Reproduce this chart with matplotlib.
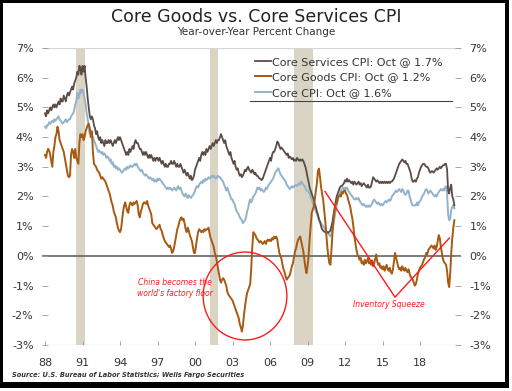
import numpy as np
import matplotlib
matplotlib.use("Agg")
import matplotlib.pyplot as plt
from matplotlib.patches import Ellipse, Rectangle
from matplotlib.lines import Line2D

# monthly year-over-year % change, Jan 1988 .. Oct 2020
core_services = [
    4.8, 4.7, 4.9, 4.8, 4.9, 5.0, 4.9, 5.0, 5.1, 5.0, 5.1, 5.0,          # 1988
    5.1, 5.2, 5.1, 5.3, 5.2, 5.2, 5.4, 5.3, 5.2, 5.4, 5.5, 5.4,          # 1989
    5.5, 5.6, 5.7, 5.6, 5.8, 5.9, 6.0, 6.2, 6.1, 6.4, 6.3, 6.1,          # 1990
    6.4, 6.2, 6.4, 6.0, 5.7, 5.3, 5.0, 4.7, 4.6, 4.7, 4.6, 4.4,          # 1991
    4.3, 4.1, 4.2, 4.0, 3.9, 4.0, 3.8, 3.9, 3.8, 3.7, 3.9, 3.8,          # 1992
    3.8, 3.9, 3.8, 3.9, 3.8, 3.7, 3.8, 3.9, 3.8, 3.9, 4.0, 3.9,          # 1993
    4.0, 3.9, 3.8, 3.7, 3.6, 3.5, 3.4, 3.5, 3.4, 3.6, 3.5, 3.6,          # 1994
    3.7, 3.6, 3.8, 3.9, 3.8, 3.8, 3.7, 3.6, 3.6, 3.5, 3.4, 3.5,          # 1995
    3.4, 3.5, 3.4, 3.3, 3.4, 3.3, 3.4, 3.3, 3.2, 3.3, 3.2, 3.3,          # 1996
    3.3, 3.2, 3.3, 3.2, 3.1, 3.2, 3.1, 3.0, 3.1, 3.0, 3.0, 3.1,          # 1997
    3.1, 3.2, 3.1, 3.1, 3.2, 3.1, 3.0, 3.1, 3.0, 3.0, 3.1, 3.0,          # 1998
    2.9, 2.8, 2.9, 2.8, 2.7, 2.8, 2.7, 2.6, 2.7, 2.55, 2.6, 2.7,         # 1999
    2.9, 3.0, 3.1, 3.2, 3.3, 3.2, 3.4, 3.5, 3.4, 3.5, 3.4, 3.6,          # 2000
    3.5, 3.6, 3.7, 3.6, 3.7, 3.8, 3.7, 3.8, 3.9, 3.8, 3.9, 3.9,          # 2001
    4.0, 4.1, 4.0, 3.9, 3.8, 3.9, 3.7, 3.6, 3.5, 3.4, 3.5, 3.3,          # 2002
    3.2, 3.1, 3.2, 3.0, 2.9, 2.95, 2.8, 2.7, 2.75, 2.65, 2.7, 2.8,       # 2003
    2.9, 2.85, 2.95, 3.0, 2.9, 2.85, 2.8, 2.9, 2.85, 2.75, 2.8, 2.7,     # 2004
    2.7, 2.65, 2.6, 2.6, 2.55, 2.6, 2.7, 2.8, 2.9, 3.0, 3.1, 3.2,        # 2005
    3.3, 3.2, 3.4, 3.5, 3.5, 3.6, 3.7, 3.85, 3.8, 3.7, 3.6, 3.65,       # 2006
    3.6, 3.55, 3.5, 3.45, 3.4, 3.45, 3.3, 3.35, 3.3, 3.25, 3.3, 3.2,    # 2007
    3.25, 3.2, 3.3, 3.25, 3.2, 3.25, 3.2, 3.25, 3.2, 3.1, 3.0, 2.85,    # 2008
    2.65, 2.5, 2.3, 2.2, 2.1, 2.0, 1.9, 1.75, 1.65, 1.5, 1.4, 1.25,     # 2009
    1.15, 1.0, 0.9, 0.85, 0.82, 0.8, 0.77, 0.8, 0.78, 0.82, 0.85, 1.0,  # 2010
    1.15, 1.4, 1.6, 1.8, 2.0, 2.1, 2.2, 2.3, 2.35, 2.35, 2.4, 2.45,     # 2011
    2.55, 2.5, 2.6, 2.5, 2.55, 2.5, 2.45, 2.5, 2.4, 2.5, 2.45, 2.4,     # 2012
    2.45, 2.5, 2.4, 2.45, 2.35, 2.4, 2.45, 2.4, 2.35, 2.3, 2.4, 2.3,    # 2013
    2.3, 2.35, 2.5, 2.65, 2.6, 2.55, 2.5, 2.55, 2.5, 2.45, 2.5, 2.45,   # 2014
    2.5, 2.45, 2.5, 2.45, 2.5, 2.45, 2.5, 2.45, 2.5, 2.5, 2.55, 2.6,    # 2015
    2.7, 2.8, 2.9, 3.0, 3.1, 3.15, 3.2, 3.25, 3.2, 3.15, 3.2, 3.1,      # 2016
    3.1, 3.0, 2.9, 2.8, 2.6, 2.5, 2.5, 2.55, 2.5, 2.6, 2.65, 2.8,       # 2017
    2.9, 3.0, 3.05, 3.1, 3.1, 3.05, 3.0, 3.0, 2.95, 2.85, 2.8, 2.85,    # 2018
    2.85, 2.8, 2.85, 2.9, 2.95, 2.9, 2.95, 3.0, 2.95, 3.0, 3.05, 3.05,  # 2019
    3.1, 3.1, 2.9, 2.2, 2.1, 2.3, 2.4, 2.0, 1.9, 1.7,                   # 2020
]

core_goods = [
    3.4, 3.3, 3.5, 3.6, 3.55, 3.4, 3.2, 3.0, 3.5, 3.7, 4.0, 4.1,
    4.35, 4.2, 3.9, 3.8, 3.7, 3.6, 3.5, 3.3, 3.1, 2.9, 2.7, 2.65,
    2.7, 3.4, 3.6, 3.5, 3.3, 3.6, 3.3, 3.2, 3.1, 3.8, 4.1, 4.0,
    4.1, 3.9, 4.0, 4.2, 4.3, 4.4, 4.45, 4.3, 4.0, 4.2, 3.5, 3.1,
    3.05, 3.0, 2.9, 2.85, 2.8, 2.7, 2.6, 2.65, 2.6, 2.55, 2.5, 2.4,
    2.3, 2.2, 2.1, 1.95, 1.8, 1.7, 1.5, 1.4, 1.3, 1.1, 0.95, 0.85,
    0.8, 0.9, 1.2, 1.5, 1.7, 1.8, 1.65, 1.5, 1.45, 1.7, 1.8, 1.75,
    1.7, 1.8, 1.75, 1.8, 1.85, 1.7, 1.4, 1.3, 1.5, 1.6, 1.75, 1.8,
    1.8, 1.75, 1.85, 1.7, 1.6, 1.5, 1.4, 1.1, 1.05, 1.0, 0.95, 0.9,
    0.95, 1.0, 1.05, 0.9, 0.85, 0.7, 0.6, 0.5, 0.45, 0.4, 0.35, 0.3,
    0.35, 0.25, 0.1, 0.15, 0.3, 0.5, 0.7, 0.9, 1.0, 1.15, 1.25, 1.3,
    1.2, 1.25, 1.1, 0.9, 0.8, 0.95, 0.85, 0.7, 0.6, 0.5, 0.3, 0.1,
    0.1, 0.35, 0.6, 0.8, 0.9, 0.85, 0.8, 0.85, 0.8, 0.9, 0.85, 0.9,
    0.9, 0.95, 0.75, 0.6, 0.5, 0.4, 0.3, 0.1, 0.0, -0.2, -0.4, -0.6,
    -0.8, -0.9, -0.8, -0.75, -0.8, -0.9, -1.0, -1.2, -1.3, -1.35, -1.4, -1.45,
    -1.5, -1.6, -1.7, -1.8, -1.9, -2.0, -2.1, -2.3, -2.4, -2.55, -2.35, -2.0,
    -1.7, -1.45, -1.25, -1.15, -1.05, -0.95, -0.4, 0.3, 0.8, 0.75, 0.7, 0.6,
    0.55, 0.5, 0.45, 0.5, 0.45, 0.4, 0.45, 0.5, 0.4, 0.5, 0.55, 0.5,
    0.55, 0.5, 0.6, 0.55, 0.65, 0.6, 0.65, 0.55, 0.3, 0.1, 0.0, -0.1,
    -0.3, -0.45, -0.55, -0.7, -0.8, -0.75, -0.7, -0.65, -0.5, -0.35, -0.25, -0.05,
    0.15, 0.25, 0.43, 0.54, 0.6, 0.65, 0.48, 0.31, 0.15, -0.13, -0.4, -0.58,
    -0.35, -0.02, 0.54, 1.0, 1.44, 1.55, 1.66, 1.9, 2.2, 2.44, 2.85, 2.94,
    2.66, 2.33, 2.1, 1.9, 1.55, 1.2, 0.77, 0.31, -0.02, -0.25, -0.3, 0.2,
    0.77, 1.2, 1.55, 1.72, 1.77, 1.94, 2.0, 2.05, 2.0, 2.15, 2.1, 2.2,
    2.2, 2.1, 2.05, 1.9, 1.77, 1.66, 1.44, 1.27, 1.0, 0.65, 0.43, 0.2,
    0.04, -0.02, -0.13, -0.07, -0.25, -0.19, -0.3, -0.13, -0.25, -0.19, -0.07, -0.25,
    -0.2, -0.3, -0.15, -0.35, -0.25, -0.1, 0.05, -0.2, -0.3, -0.25, -0.4, -0.35,
    -0.45, -0.35, -0.5, -0.4, -0.3, -0.45, -0.5, -0.4, -0.55, -0.6, -0.45, -0.2,
    0.1, -0.05, -0.2, -0.35, -0.45, -0.4, -0.5, -0.35, -0.45, -0.5, -0.4, -0.5,
    -0.55, -0.45, -0.6, -0.7, -0.75, -0.8, -0.9, -1.0, -0.95, -0.8, -0.6, -0.5,
    -0.4, -0.35, -0.3, -0.2, -0.1, -0.05, 0.1, 0.05, 0.2, 0.25, 0.3, 0.35,
    0.3, 0.25, 0.35, 0.2, 0.3, 0.5, 0.7, 0.6, 0.3, 0.1, -0.1, -0.2,
    -0.25, -0.3, -0.5, -0.9, -1.05, -0.6, 0.1, 0.6, 0.95, 1.2,
]

core_cpi = [
    4.35, 4.3, 4.4, 4.4, 4.5, 4.45, 4.5, 4.55, 4.5, 4.6, 4.55, 4.6,
    4.65, 4.7, 4.6, 4.55, 4.5, 4.45, 4.5, 4.55, 4.6, 4.5, 4.55, 4.6,
    4.6, 4.7, 4.75, 4.8, 4.9, 5.1, 5.2, 5.5, 5.3, 5.4, 5.6, 5.5,
    5.6, 5.5, 5.3, 5.1, 4.8, 4.6, 4.3, 4.1, 4.2, 4.1, 4.0, 3.9,
    3.8, 3.7, 3.6, 3.5, 3.55, 3.5, 3.45, 3.5, 3.4, 3.45, 3.4, 3.3,
    3.35, 3.3, 3.2, 3.25, 3.1, 3.15, 3.0, 3.05, 2.95, 3.0, 2.9, 2.95,
    2.9, 2.85, 2.8, 2.85, 2.9, 2.95, 2.9, 3.0, 2.95, 3.0, 3.05, 3.0,
    3.0, 3.05, 3.1, 3.05, 3.1, 3.0, 2.95, 2.9, 2.85, 2.9, 2.8, 2.75,
    2.7, 2.75, 2.7, 2.65, 2.6, 2.65, 2.6, 2.55, 2.6, 2.5, 2.55, 2.5,
    2.6, 2.55, 2.6, 2.55, 2.5, 2.45, 2.4, 2.35, 2.3, 2.25, 2.3, 2.25,
    2.3, 2.25, 2.2, 2.25, 2.3, 2.25, 2.2, 2.3, 2.35, 2.25, 2.3, 2.2,
    2.1, 2.05, 2.0, 2.1, 2.0, 1.95, 2.05, 2.0, 1.95, 2.0, 2.05, 2.1,
    2.2, 2.3, 2.35, 2.3, 2.4, 2.45, 2.5, 2.45, 2.55, 2.5, 2.6, 2.55,
    2.6, 2.65, 2.6, 2.65, 2.7, 2.65, 2.7, 2.65, 2.6, 2.65, 2.7, 2.65,
    2.65, 2.6, 2.55, 2.5, 2.4, 2.3, 2.2, 2.3, 2.2, 2.1, 2.0, 1.9,
    1.9, 1.8, 1.75, 1.6, 1.5, 1.45, 1.4, 1.3, 1.25, 1.2, 1.1, 1.15,
    1.2, 1.3, 1.5, 1.6, 1.8, 1.9, 1.8, 1.9, 2.0, 2.05, 2.1, 2.2,
    2.3, 2.25, 2.3, 2.2, 2.25, 2.2, 2.15, 2.2, 2.3, 2.25, 2.35, 2.4,
    2.45, 2.5, 2.55, 2.6, 2.7, 2.8, 2.85, 2.9, 2.95, 2.85, 2.75, 2.7,
    2.65, 2.6, 2.55, 2.5, 2.4, 2.35, 2.3, 2.25, 2.3, 2.35, 2.3, 2.35,
    2.35, 2.4, 2.35, 2.4, 2.45, 2.4, 2.5, 2.45, 2.4, 2.35, 2.3, 2.2,
    2.2, 2.15, 2.1, 2.0, 1.9, 1.8, 1.7, 1.6, 1.5, 1.4, 1.3, 1.2,
    1.15, 1.1, 1.05, 1.0, 0.95, 0.9, 0.85, 0.8, 0.75, 0.7, 0.65, 0.75,
    0.9, 1.1, 1.3, 1.5, 1.7, 1.85, 2.0, 2.1, 2.2, 2.25, 2.3, 2.25,
    2.3, 2.25, 2.3, 2.2, 2.15, 2.1, 2.05, 2.0, 1.95, 1.9, 1.9, 1.95,
    1.9, 1.95, 1.85, 1.8, 1.75, 1.7, 1.75, 1.7, 1.65, 1.7, 1.65, 1.7,
    1.65, 1.7, 1.75, 1.85, 1.9, 1.85, 1.8, 1.75, 1.8, 1.75, 1.7, 1.75,
    1.7, 1.75, 1.8, 1.85, 1.8, 1.85, 1.9, 1.85, 1.9, 2.0, 2.05, 2.1,
    2.15, 2.2, 2.15, 2.2, 2.25, 2.2, 2.15, 2.25, 2.2, 2.1, 2.05, 2.1,
    2.2, 2.2, 2.0, 1.9, 1.75, 1.7, 1.7, 1.7, 1.7, 1.8, 1.7, 1.8,
    1.85, 1.9, 2.0, 2.05, 2.1, 2.2, 2.25, 2.2, 2.1, 2.15, 2.2, 2.15,
    2.1, 2.05, 2.0, 2.05, 2.0, 2.1, 2.15, 2.2, 2.25, 2.2, 2.25, 2.2,
    2.3, 2.35, 2.1, 1.4, 1.2, 1.25, 1.55, 1.65, 1.7, 1.6,
]

labels = ["Core Services CPI: Oct @ 1.7%",
          "Core Goods CPI: Oct @ 1.2%",
          "Core CPI: Oct @ 1.6%"]
recessions = [(1990.5, 1991.17), (2001.17, 2001.83), (2007.92, 2009.42)]
tick_years = list(range(1988, 2019, 3))
y_ticks = list(range(-3, 8))

c_serv = "#5b4c45"
c_goods = "#a65a12"
c_core = "#93b3ca"
red = "#ff1a1a"

W, H = 512, 391
fig = plt.figure(figsize=(W / 100, H / 100), dpi=100)
ax = fig.add_axes([42 / W, 1 - 345 / H, (461 - 42) / W, (345 - 48) / H])

x = 1988 + np.arange(len(core_services)) / 12.0

for a, b in recessions:
    ax.axvspan(a, b, color="#d9d4c4", lw=0, zorder=0)

ax.axhline(7, color="#d6d6d6", lw=0.9, zorder=1)
ax.axhline(-3, color="#d6d6d6", lw=0.9, zorder=1)
ax.axhline(0, color="#6f6f6f", lw=1.3, zorder=1)

ax.plot(x, core_services, color=c_serv, lw=1.3, label=labels[0], zorder=3)
ax.plot(x, core_goods, color=c_goods, lw=1.4, label=labels[1], zorder=3)
ax.plot(x, core_cpi, color=c_core, lw=1.4, label=labels[2], zorder=2)

ax.set_xlim(1987.76, 2021.28)
ax.set_ylim(-3, 7)
ax.set_xticks(tick_years)
ax.set_xticklabels(["%02d" % (y % 100) for y in tick_years])
ax.set_yticks(y_ticks)
ax.set_yticklabels(["%d%%" % v for v in y_ticks])
for s in ax.spines.values():
    s.set_visible(False)
ax.tick_params(axis="y", which="both", direction="in", length=4.5, width=0.6,
               color="#999999", labelsize=8, labelcolor="#333333", pad=6,
               left=True, right=True, labelleft=True, labelright=True)
ax.tick_params(axis="x", direction="in", length=3, width=0.6, color="#999999",
               labelsize=8, labelcolor="#333333", pad=9)

# annotations
ax.add_patch(Ellipse((2004.0, -1.35), 6.7, 2.96, fill=False, edgecolor=red, lw=1.0, zorder=4))
ax.text(1998.4, -1.09, "China becomes the\nworld's factory floor", color=red,
        fontsize=5.5, style="italic", ha="center", va="center", linespacing=1.25)
ax.plot([2010.4, 2016.0, 2020.35], [2.17, -1.39, 0.6], color=red, lw=1.0, zorder=4)
ax.text(2015.47, -1.65, "Inventory Squeeze", color=red, fontsize=5.5,
        style="italic", ha="center", va="center")

leg = ax.legend(loc="upper left", bbox_to_anchor=(255 / W, 1 - 57 / H),
                bbox_transform=fig.transFigure, frameon=False, fontsize=8,
                handlelength=1.4, handletextpad=0.15, labelspacing=0.48,
                borderpad=0, borderaxespad=0)
for t in leg.get_texts():
    t.set_color("#333333")
fig.add_artist(Line2D([250 / W, 452 / W], [1 - 101 / H, 1 - 101 / H],
                      color="#444444", lw=0.8))

fig.text(0.5, 1 - 17 / H, "Core Goods vs. Core Services CPI", ha="center",
         va="center", fontsize=12.5, color="#222222")
fig.text(0.5, 1 - 32 / H, "Year-over-Year Percent Change", ha="center",
         va="center", fontsize=7.5, color="#333333")
fig.text(12 / W, 1 - 375 / H,
         "Source: U.S. Bureau of Labor Statistics; Wells Fargo Securities",
         ha="left", va="center", fontsize=4.8, style="italic",
         fontweight="bold", color="#333333")

# black frame, heavier on the right and bottom
for bx, by, bw, bh in [(0, 0, 3, 388), (0, 0, 509, 3), (505, 0, 4, 388), (0, 382, 509, 6)]:
    fig.add_artist(Rectangle((bx / W, 1 - (by + bh) / H), bw / W, bh / H,
                             transform=fig.transFigure, color="black", lw=0))

fig.savefig("out.png", dpi=100)
